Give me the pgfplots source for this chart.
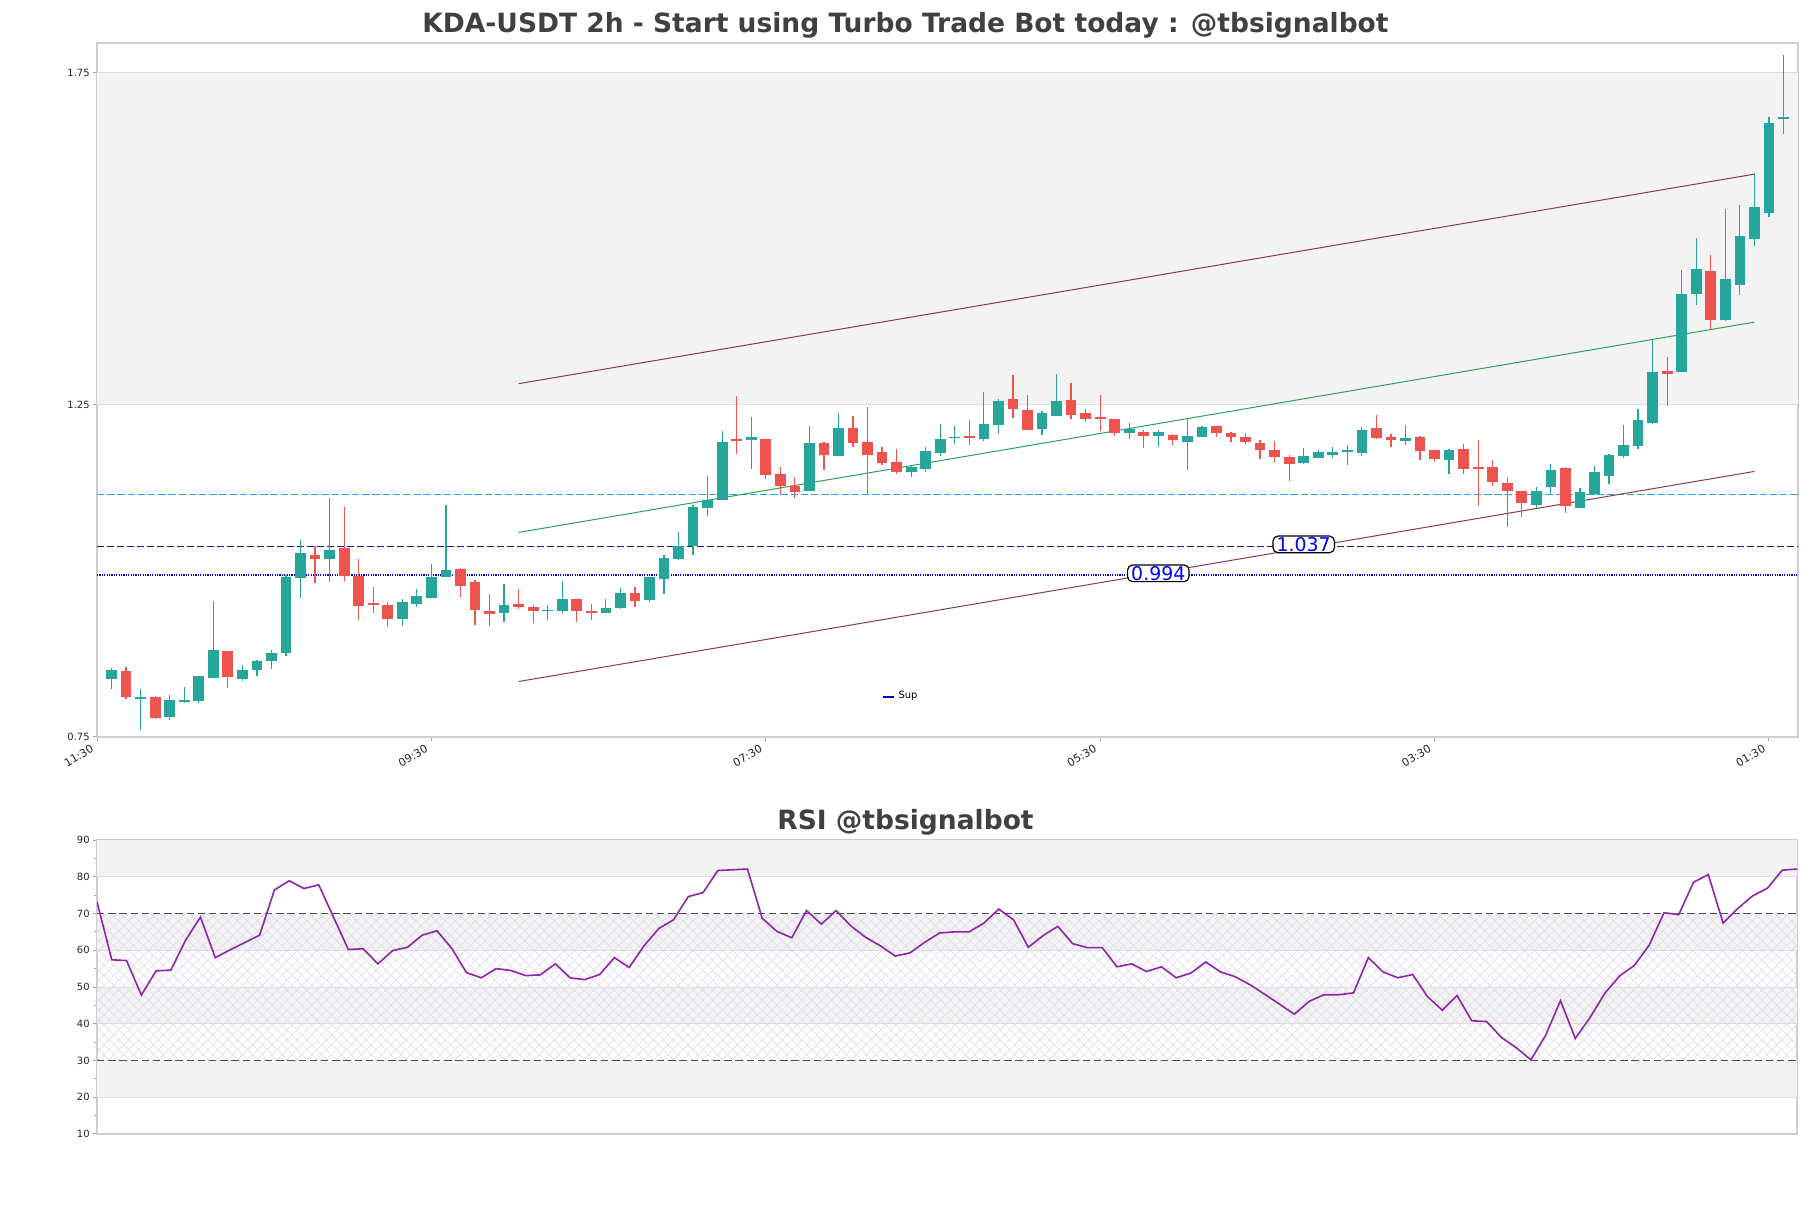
\documentclass[border=0pt]{standalone}
\usepackage{fontspec}
\setmainfont{DejaVu Sans}
\usepackage{pgfplots}
\usepackage{pgfplotstable}
\pgfplotsset{compat=1.18}
\usetikzlibrary{patterns.meta}

\definecolor{up}{HTML}{26A69A}
\definecolor{down}{HTML}{EF5350}
\definecolor{chan}{RGB}{139,58,74}
\definecolor{midl}{RGB}{46,160,90}
\definecolor{res}{RGB}{50,160,210}
\definecolor{lvl}{RGB}{20,20,170}
\definecolor{sup}{RGB}{0,0,205}
\definecolor{band}{RGB}{243,243,243}
\definecolor{gridc}{RGB}{222,222,222}
\definecolor{frame}{RGB}{205,205,205}
\definecolor{ttl}{RGB}{64,64,64}
\definecolor{rsic}{RGB}{142,36,170}
\definecolor{hatch}{RGB}{226,217,234}

% green candles: x open high low close
\pgfplotstableread{
x o h l c
1 .8371 .8545 .8221 .8505
3 .8071 .8216 .7606 .8096
5 .7796 .8136 .7756 .8051
6 .8021 .8246 .8006 .8051
7 .8041 .8425 .8011 .8425
8 .8386 .9545 .8386 .8815
10 .8366 .8590 .8341 .8516
11 .8505 .8665 .8411 .8650
12 .8640 .8810 .8530 .8770
13 .8760 .9945 .8715 .9910
14 .9900 1.0465 .9600 1.0270
16 1.0185 1.1094 .9835 1.0320
21 .9270 .9580 .9165 .9535
22 .9510 .9735 .9450 .9625
23 .9590 1.0105 .9590 .9910
24 .9915 1.0989 .9915 1.0015
28 .9360 .9800 .9225 .9485
31 .9400 .9495 .9255 .9415
32 .9390 .9850 .9345 .9580
35 .9360 .9580 .9360 .9445
36 .9435 .9745 .9420 .9670
38 .9570 .9915 .9540 .9915
39 .9885 1.0240 .9660 1.0195
40 1.0185 1.0584 1.0170 1.0375
41 1.0370 1.0994 1.0245 1.0959
42 1.0949 1.1424 1.0829 1.1074
43 1.1069 1.2114 1.1069 1.1949
45 1.1969 1.2323 1.1534 1.2019
49 1.1204 1.2184 1.1204 1.1934
51 1.1729 1.2383 1.1729 1.2158
56 1.1489 1.1589 1.1414 1.1564
57 1.1534 1.1869 1.1494 1.1799
58 1.1774 1.2219 1.1734 1.1994
59 1.1999 1.2184 1.1909 1.2024
61 1.1984 1.2698 1.1954 1.2214
62 1.2194 1.2593 1.2059 1.2563
65 1.2134 1.2413 1.2044 1.2383
66 1.2333 1.2968 1.2333 1.2563
71 1.2074 1.2228 1.1984 1.2134
73 1.2029 1.2129 1.1864 1.2099
75 1.1939 1.2303 1.1519 1.2034
76 1.2014 1.2189 1.2014 1.2174
83 1.1624 1.1854 1.1604 1.1734
84 1.1704 1.1829 1.1704 1.1794
85 1.1744 1.1869 1.1704 1.1794
86 1.1794 1.1894 1.1594 1.1814
87 1.1774 1.2168 1.1734 1.2128
90 1.1953 1.2203 1.1894 1.2003
93 1.1674 1.1829 1.1459 1.1814
99 1.0994 1.1269 1.0944 1.1209
100 1.1263 1.1618 1.1143 1.1513
102 1.0944 1.1243 1.0944 1.1193
103 1.1153 1.1578 1.1143 1.1483
104 1.1428 1.1768 1.1303 1.1743
105 1.1728 1.2193 1.1703 1.1903
106 1.1883 1.2443 1.1843 1.2278
107 1.2233 1.3477 1.2218 1.3003
109 1.3003 1.4527 1.3003 1.4167
110 1.4167 1.5007 1.4007 1.4542
112 1.3777 1.5456 1.3767 1.4392
113 1.4302 1.5516 1.4152 1.5037
114 1.4992 1.5991 1.4892 1.5486
115 1.5396 1.6841 1.5326 1.6751
116 1.6811 1.7765 1.6581 1.6836
}\bull

% red candles
\pgfplotstableread{
x o h l c
2 .8501 .8560 .8071 .8096
4 .8096 .8111 .7771 .7786
9 .8800 .8800 .8236 .8396
15 1.0235 1.0370 .9820 1.0185
17 1.0345 1.0959 .9855 .9930
18 .9930 1.0180 .9255 .9480
19 .9520 .9760 .9360 .9495
20 .9490 .9535 .9150 .9270
25 1.0030 1.0045 .9615 .9775
26 .9835 .9865 .9180 .9405
27 .9395 .9655 .9165 .9345
29 .9500 .9730 .9420 .9450
30 .9460 .9485 .9210 .9390
33 .9580 .9580 .9225 .9390
34 .9400 .9505 .9255 .9370
37 .9670 .9760 .9465 .9555
44 1.1984 1.2638 1.1759 1.1959
46 1.1994 1.1994 1.1389 1.1439
47 1.1454 1.1559 1.1154 1.1279
48 1.1279 1.1409 1.1104 1.1189
50 1.1934 1.1949 1.1519 1.1744
52 1.2158 1.2333 1.1874 1.1924
53 1.1949 1.2473 1.1154 1.1744
54 1.1784 1.1869 1.1594 1.1624
55 1.1634 1.1844 1.1464 1.1489
60 1.2029 1.2278 1.1894 1.2009
63 1.2593 1.2958 1.2298 1.2433
64 1.2423 1.2653 1.2124 1.2124
67 1.2573 1.2833 1.2293 1.2343
68 1.2383 1.2433 1.2243 1.2293
69 1.2318 1.2653 1.2104 1.2298
70 1.2288 1.2288 1.2034 1.2074
72 1.2099 1.2129 1.1849 1.2029
74 1.2054 1.2064 1.1894 1.1969
77 1.2189 1.2189 1.2014 1.2074
78 1.2084 1.2099 1.1944 1.2014
79 1.2024 1.2084 1.1909 1.1939
80 1.1929 1.1979 1.1684 1.1819
81 1.1814 1.1964 1.1639 1.1714
82 1.1719 1.1739 1.1359 1.1609
88 1.2153 1.2353 1.1983 1.2008
89 1.2018 1.2063 1.1864 1.1968
91 1.2018 1.2038 1.1669 1.1809
92 1.1814 1.1829 1.1639 1.1684
94 1.1829 1.1913 1.1459 1.1539
95 1.1569 1.1978 1.0979 1.1534
96 1.1569 1.1669 1.1284 1.1344
97 1.1329 1.1409 1.0669 1.1209
98 1.1209 1.1209 1.0819 1.1024
101 1.1543 1.1568 1.0869 1.0979
108 1.3013 1.3217 1.2478 1.2963
111 1.4512 1.4762 1.3627 1.3777
}\bear

% RSI, one value per candle
\pgfplotstableread{
x r
0 73.2
1 57.4
2 57.2
3 47.8
4 54.4
5 54.6
6 62.8
7 69.0
8 58.0
9 60.1
10 62.1
11 64.1
12 76.4
13 78.9
14 76.8
15 77.8
16 69.0
17 60.2
18 60.4
19 56.3
20 59.9
21 60.8
22 64.1
23 65.3
24 60.5
25 53.9
26 52.5
27 55.0
28 54.5
29 53.1
30 53.3
31 56.3
32 52.5
33 52.0
34 53.4
35 58.0
36 55.3
37 61.2
38 65.9
39 68.3
40 74.6
41 75.7
42 81.7
43 81.9
44 82.1
45 68.7
46 65.1
47 63.4
48 70.8
49 67.1
50 70.8
51 66.6
52 63.5
53 61.2
54 58.4
55 59.3
56 62.2
57 64.7
58 65.0
59 65.0
60 67.4
61 71.2
62 68.3
63 60.8
64 64.0
65 66.5
66 61.8
67 60.7
68 60.7
69 55.5
70 56.3
71 54.2
72 55.5
73 52.5
74 53.8
75 56.8
76 54.1
77 52.8
78 50.6
79 48.0
80 45.3
81 42.6
82 46.1
83 47.9
84 47.9
85 48.4
86 58.0
87 54.1
88 52.5
89 53.4
90 47.4
91 43.7
92 47.7
93 40.8
94 40.6
95 36.3
96 33.5
97 30.2
98 36.9
99 46.3
100 36.0
101 41.7
102 48.3
103 53.0
104 55.9
105 61.4
106 70.2
107 69.7
108 78.5
109 80.6
110 67.4
111 71.4
112 74.8
113 76.9
114 81.8
115 82.1
}\rsi

\pgfplotsset{
  candle/.style 2 args={draw=none, mark=none, forget plot,
    error bars/.cd, y dir=both, y explicit, error mark=none,
    error bar style={draw=#1, line width=#2}},
}

\begin{document}
\begin{tikzpicture}
\path[use as bounding box] (0,0) rectangle (905.5bp,604bp);

\node[font=\fontsize{13.3}{16}\selectfont\bfseries, text=ttl] at (452.75bp,591.3bp)
  {KDA-USDT 2h - Start using Turbo Trade Bot today : @tbsignalbot};

\begin{axis}[
  at={(48.5bp,235.5bp)}, anchor=south west,
  width=850.5bp, height=347bp, scale only axis,
  xmin=0, xmax=117, ymin=0.75, ymax=1.795,
  axis line style={frame, line width=0.6bp},
  tick style={frame!80!black, line width=0.5bp},
  tick align=outside, tick pos=left, major tick length=2bp,
  xtick={0,23,46,69,92,115},
  xticklabels={11:30,09:30,07:30,05:30,03:30,01:30},
  xticklabel style={rotate=30, anchor=north east, font=\fontsize{5.5}{6.5}\selectfont, text=black!85,
    inner sep=1bp, xshift=-2.5bp, yshift=1.5bp},
  ytick={0.75,1.25,1.75},
  yticklabel style={font=\fontsize{5}{6}\selectfont, text=black!85, inner sep=1.5bp},
  /pgf/number format/fixed, /pgf/number format/fixed zerofill,
  /pgf/number format/precision=2, /pgf/number format/assume math mode=true,
  legend style={at={(0.461,0.058)}, anchor=west, draw=none, fill=none,
    font=\fontsize{5}{6}\selectfont, inner sep=0pt},
  legend image code/.code={\draw[#1] (0bp,0bp) -- (5.5bp,0bp);},
]
% background band and grid lines
\addplot[draw=none, fill=band, forget plot] coordinates {(0,1.25) (117,1.25) (117,1.75) (0,1.75)} -- cycle;
\addplot[gridc, line width=0.5bp, forget plot] coordinates {(0,1.25) (117,1.25)};
\addplot[gridc, line width=0.5bp, forget plot] coordinates {(0,1.75) (117,1.75)};

% levels
\addplot[res, line width=0.6bp, dash pattern=on 3.7bp off 1.4bp, forget plot] coordinates {(0,1.115) (117,1.115)};
\addplot[lvl, line width=0.7bp, dash pattern=on 3.4bp off 1.6bp, forget plot] coordinates {(0,1.037) (117,1.037)};
\addplot[sup, line width=1.2bp, dash pattern=on 0.6bp off 0.6bp, forget plot] coordinates {(0,0.994) (117,0.994)};

% channel
\addplot[chan, line width=0.5bp, forget plot] coordinates {(29,1.282) (114,1.5975)};
\addplot[midl, line width=0.5bp, forget plot] coordinates {(29,1.058) (114,1.3747)};
\addplot[chan, line width=0.5bp, forget plot] coordinates {(29,0.8335) (114,1.1499)};

% wicks
\addplot[candle={up}{0.6bp}]
  table[x=x, y expr={(\thisrow{h}+\thisrow{l})/2}, y error expr={(\thisrow{h}-\thisrow{l})/2}] {\bull};
\addplot[candle={down}{0.6bp}]
  table[x=x, y expr={(\thisrow{h}+\thisrow{l})/2}, y error expr={(\thisrow{h}-\thisrow{l})/2}] {\bear};
% bodies
\addplot[candle={up}{5.35bp}]
  table[x=x, y expr={(\thisrow{o}+\thisrow{c})/2}, y error expr={max(abs(\thisrow{c}-\thisrow{o})/2,0.0012)}] {\bull};
\addplot[candle={down}{5.35bp}]
  table[x=x, y expr={(\thisrow{o}+\thisrow{c})/2}, y error expr={max(abs(\thisrow{c}-\thisrow{o})/2,0.0012)}] {\bear};

\node[draw=black, fill=white, rounded corners=2.5bp, line width=0.6bp, text=blue,
  font=\fontsize{9.5}{11}\selectfont, inner xsep=1.8bp, inner ysep=0.6bp] at (axis cs:73,0.9965) {0.994};
\node[draw=black, fill=white, rounded corners=2.5bp, line width=0.6bp, text=blue,
  font=\fontsize{9.5}{11}\selectfont, inner xsep=1.8bp, inner ysep=0.6bp] at (axis cs:83,1.040) {1.037};

\addlegendimage{sup, line width=1bp}
\addlegendentry{Sup}
\end{axis}

\node[font=\fontsize{13.3}{16}\selectfont\bfseries, text=ttl] at (452.75bp,193bp) {RSI @tbsignalbot};

\begin{axis}[
  at={(48.5bp,37bp)}, anchor=south west,
  width=850bp, height=147bp, scale only axis,
  xmin=0, xmax=115, ymin=10, ymax=90,
  axis line style={frame, line width=0.6bp},
  tick style={frame!80!black, line width=0.5bp},
  tick align=outside, tick pos=left, major tick length=2bp, minor tick length=1.5bp,
  xtick=\empty,
  ytick={10,20,...,90}, minor ytick={15,25,...,85},
  yticklabel style={font=\fontsize{5}{6}\selectfont, text=black!85, inner sep=1.5bp},
  /pgf/number format/assume math mode=true,
]
\addplot[draw=none, fill=band] coordinates {(0,80) (115,80) (115,90) (0,90)} -- cycle;
\addplot[draw=none, fill=band] coordinates {(0,60) (115,60) (115,70) (0,70)} -- cycle;
\addplot[draw=none, fill=band] coordinates {(0,40) (115,40) (115,50) (0,50)} -- cycle;
\addplot[draw=none, fill=band] coordinates {(0,20) (115,20) (115,30) (0,30)} -- cycle;
\addplot[draw=none, pattern={Lines[angle=45,distance=3.5bp,line width=0.3bp]}, pattern color=hatch]
  coordinates {(0,30) (115,30) (115,70) (0,70)} -- cycle;
\addplot[draw=none, pattern={Lines[angle=-45,distance=3.5bp,line width=0.3bp]}, pattern color=hatch]
  coordinates {(0,30) (115,30) (115,70) (0,70)} -- cycle;
\pgfplotsinvokeforeach{20,40,50,60,80}{
  \addplot[gridc, line width=0.5bp] coordinates {(0,#1) (115,#1)};
}
\addplot[black!70, line width=0.6bp, dash pattern=on 3.7bp off 1.9bp] coordinates {(0,70) (115,70)};
\addplot[black!70, line width=0.6bp, dash pattern=on 3.7bp off 1.9bp] coordinates {(0,30) (115,30)};
\addplot[rsic, line width=0.8bp] table[x=x, y=r] {\rsi};
\end{axis}
\end{tikzpicture}
\end{document}
